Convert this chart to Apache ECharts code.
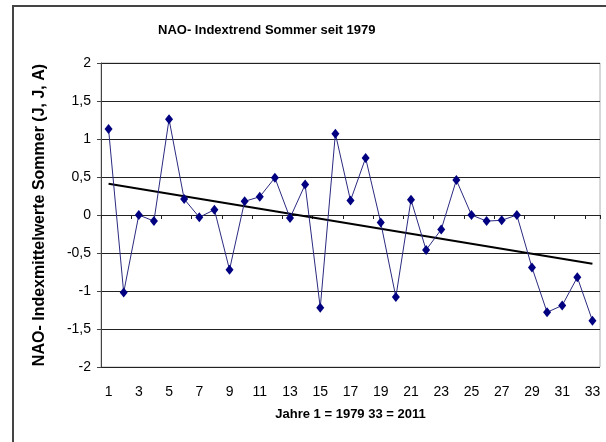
<!DOCTYPE html>
<html>
<head>
<meta charset="utf-8">
<script src="https://cdn.jsdelivr.net/npm/echarts@6/dist/echarts.min.js"></script>
<style>
  html, body { margin: 0; padding: 0; background: #fff; }
  #chart { width: 606px; height: 442px; }
</style>
</head>
<body>
<div id="chart"></div>
<script>
var years = ["1", "2", "3", "4", "5", "6", "7", "8", "9", "10", "11", "12", "13", "14", "15", "16", "17",
    "18", "19", "20", "21", "22", "23", "24", "25", "26", "27", "28", "29", "30", "31", "32", "33"]
var naoValues = [1.13, -1.02, 0.0, -0.08, 1.26, 0.21, -0.03, 0.07, -0.72, 0.18, 0.24, 0.49, -0.04, 0.40, -1.22, 1.07, 0.19,
    0.75, -0.10, -1.08, 0.20, -0.46, -0.19, 0.46, 0.0, -0.08, -0.07, 0.0, -0.69, -1.28, -1.19, -0.82, -1.39]
// Excel trend line, read at its two ends (year 1 and year 33)
var trendEnds = [0.41, -0.64]

var font = "'Liberation Sans', Arial, sans-serif"

var chartDom = document.getElementById("chart")
var myChart = echarts.init(chartDom)
var option

option = {
    animation: false,
    title: {
        text: "NAO- Indextrend Sommer seit 1979",
        left: 153,
        top: 19,
        textStyle: { fontFamily: font, fontSize: 13, fontWeight: "bold", color: "#000" }
    },
    graphic: [
        {
            type: "rect",
            shape: { x: 13, y: 6, width: 700, height: 600 },
            style: { fill: null, stroke: "#444", lineWidth: 2 },
            silent: true
        }
    ],
    grid: {
        left: 101,
        top: 63,
        right: 6,
        bottom: 75,
        show: true,
        borderColor: "#b0b0b0",
        borderWidth: 1
    },
    xAxis: {
        type: "category",
        data: years,
        boundaryGap: true,
        name: "Jahre 1 = 1979 33 = 2011",
        nameLocation: "middle",
        nameGap: 41,
        nameTextStyle: { fontFamily: font, fontSize: 13, fontWeight: "bold", color: "#000" },
        axisLine: { lineStyle: { color: "#222", width: 1 } },
        axisTick: { show: true, length: 4, lineStyle: { color: "#222" } },
        axisLabel: { interval: 1, fontFamily: font, fontSize: 14, color: "#000", margin: 18 },
        splitLine: { show: false }
    },
    yAxis: {
        type: "value",
        min: -2,
        max: 2,
        interval: 0.5,
        name: "NAO- Indexmittelwerte Sommer (J, J, A)",
        nameLocation: "middle",
        nameRotate: 90,
        nameGap: 53,
        nameTextStyle: { fontFamily: font, fontSize: 16, fontWeight: "bold", color: "#000" },
        axisLine: { show: true, lineStyle: { color: "#444", width: 1 } },
        axisTick: { show: true, length: 4, lineStyle: { color: "#444" } },
        axisLabel: {
            fontFamily: font, fontSize: 14, color: "#000", margin: 10,
            formatter: function (v) { return String(v).replace(".", ",") }
        },
        splitLine: { show: true, lineStyle: { color: "#222", width: 1 } }
    },
    series: [
        {
            type: "line",
            data: naoValues,
            symbol: "diamond",
            symbolSize: [8, 10],
            lineStyle: { color: "#2a2a80", width: 1 },
            itemStyle: { color: "#000080" },
            z: 3
        },
        {
            type: "line",
            data: [[years[0], trendEnds[0]], [years[years.length - 1], trendEnds[1]]],
            symbol: "none",
            lineStyle: { color: "#000", width: 2 },
            z: 2
        }
    ]
}

option && myChart.setOption(option)
</script>
</body>
</html>
